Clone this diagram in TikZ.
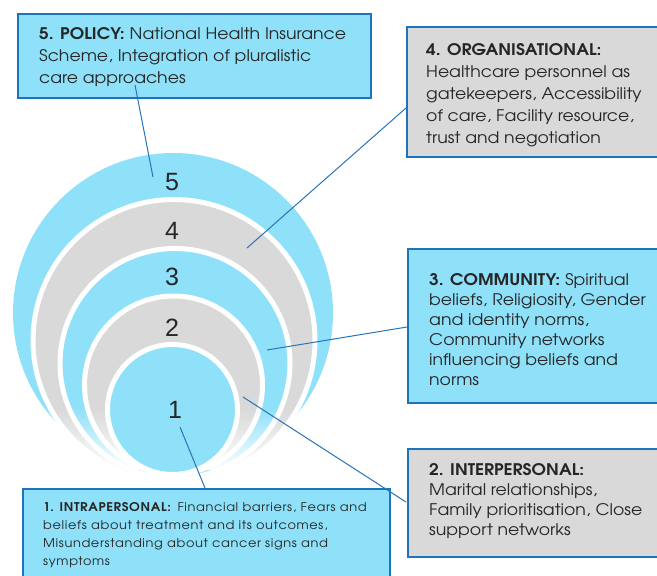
\documentclass[tikz,border=0pt]{standalone}
\usepackage{fontspec}
\setmainfont{TeX Gyre Adventor}
\newfontfamily\boxfont[FakeStretch=1.08]{TeX Gyre Adventor}
\newfontfamily\smallboxfont[FakeStretch=1.08,LetterSpace=5]{TeX Gyre Adventor}
\newfontfamily\numfont{Liberation Sans}
\usetikzlibrary{fadings}
\definecolor{lblue}{RGB}{143,225,250}
\definecolor{lgray}{RGB}{217,217,217}
\definecolor{bblue}{RGB}{30,115,190}
\definecolor{lineblue}{RGB}{40,115,185}
\definecolor{txtcol}{RGB}{38,38,38}
\begin{document}
\begin{tikzpicture}[x=1pt,y=-1pt,
  box/.style={draw=bblue, line width=2pt, inner sep=0pt, anchor=north west},
  ring/.style={draw=white, line width=5pt},
  conn/.style={draw=lineblue, line width=1pt},
  num/.style={font=\numfont\fontsize{25}{25}\selectfont, inner sep=0pt, text=txtcol},
  txt/.style={anchor=base west, inner sep=0pt, text=txtcol}]
\useasboundingbox (0,0) rectangle (657,576);
\clip (0,0) rectangle (657,576);
% circles
\fill[lblue] (173,313) circle[radius=160pt];
\filldraw[fill=lgray, ring] (174,340.5) circle[radius=141pt];
\filldraw[fill=lblue, ring] (175,363.5) circle[radius=115pt];
\filldraw[fill=lgray, ring] (173.5,385) circle[radius=89pt];
\fill[white, path fading=north] (0,408) rectangle (360,470);
\filldraw[fill=lblue, ring] (172.5,409.5) circle[radius=65pt];
% numbers
\node[num] (n5) at (172,182) {5};
\node[num] (n4) at (172,231) {4};
\node[num] (n3) at (172,277) {3};
\node[num] (n2) at (172,328) {2};
\node[num] (n1) at (175,410) {1};
% boxes
\node[box, fill=lblue, minimum width=353pt, minimum height=84pt] (b5) at (17,13) {};
\node[box, fill=lgray, minimum width=260pt, minimum height=130pt] (b4) at (406,26) {};
\node[box, fill=lblue, minimum width=260pt, minimum height=154pt] (b3) at (407,248) {};
\node[box, fill=lgray, minimum width=260pt, minimum height=108pt] (b2) at (407,448) {};
\node[box, fill=lblue, minimum width=367pt, minimum height=100pt] (b1) at (22,488) {};
% texts
\node[txt, font=\boxfont\fontsize{16}{22}\selectfont] (t5) at (39,39) {\begin{tabular}[t]{@{}l@{}}\textbf{5. POLICY:} National Health Insurance\\ Scheme, Integration of pluralistic\\ care approaches\end{tabular}};
\node[txt, font=\boxfont\fontsize{16}{22}\selectfont] (t4) at (426,55) {\begin{tabular}[t]{@{}l@{}}\textbf{4. ORGANISATIONAL:}\\ Healthcare personnel as\\ gatekeepers, Accessibility\\ of care, Facility resource,\\ trust and negotiation\end{tabular}};
\node[txt, font=\boxfont\fontsize{16}{20}\selectfont] (t3) at (429,285) {\begin{tabular}[t]{@{}l@{}}\textbf{3. COMMUNITY:} Spiritual\\ beliefs, Religiosity, Gender\\ and identity norms,\\ Community networks\\ influencing beliefs and\\ norms\end{tabular}};
\node[txt, font=\boxfont\fontsize{16}{20}\selectfont] (t2) at (429,475) {\begin{tabular}[t]{@{}l@{}}\textbf{2. INTERPERSONAL:}\\ Marital relationships,\\ Family prioritisation, Close\\ support networks\end{tabular}};
\node[txt, font=\smallboxfont\fontsize{12}{18.3}\selectfont] (t1) at (43,511) {\begin{tabular}[t]{@{}l@{}}\textbf{1. INTRAPERSONAL:}\hspace{6pt}Financial barriers, Fears and\\ beliefs about treatment and its outcomes,\\ Misunderstanding about cancer  signs and\\ symptoms\end{tabular}};
% connector ends
\coordinate (a5) at (135,85);  \coordinate (r5) at (153,177);
\coordinate (a4) at (406,108); \coordinate (r4) at (247,248);
\coordinate (a3) at (407,327); \coordinate (r3) at (267,350);
\coordinate (a2) at (406,502); \coordinate (r2) at (243,397);
\coordinate (a1) at (205,488); \coordinate (r1) at (180,427);
\draw[conn] (a5) -- (r5);
\draw[conn] (a4) -- (r4);
\draw[conn] (a3) -- (r3);
\draw[conn] (a2) -- (r2);
\draw[conn] (a1) -- (r1);
\end{tikzpicture}
\end{document}
